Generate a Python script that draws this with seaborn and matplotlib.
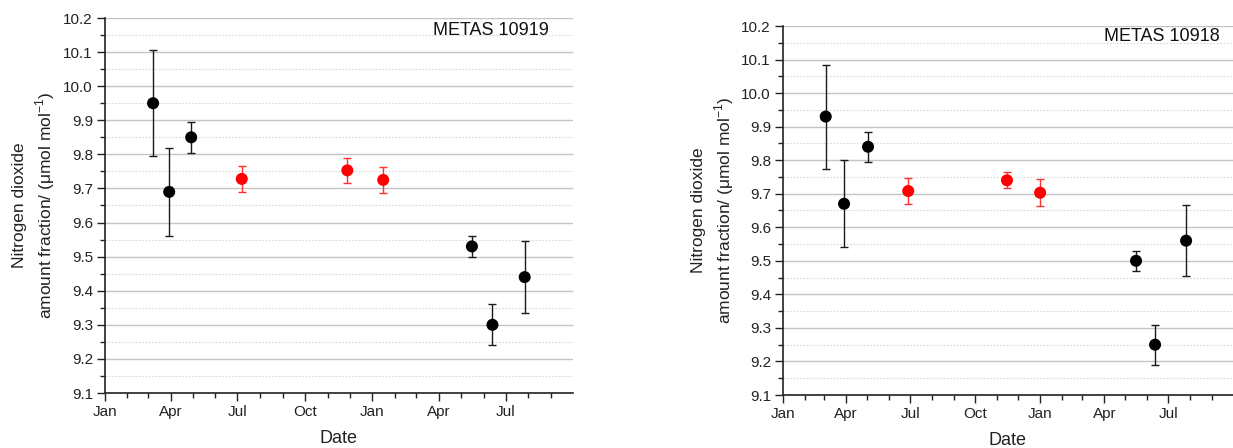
import numpy as np
import pandas as pd
import matplotlib
matplotlib.use("Agg")
import matplotlib.pyplot as plt
import matplotlib.dates as mdates
import seaborn as sns

# ---- data ----
dates_10919 = ["2019-03-08", "2019-03-30", "2019-04-29", "2019-07-07", "2019-11-28",
               "2020-01-16", "2020-05-16", "2020-06-13", "2020-07-27"]
values_10919 = [9.95, 9.69, 9.85, 9.728, 9.753, 9.725, 9.53, 9.30, 9.44]
errors_10919 = [0.155, 0.13, 0.045, 0.038, 0.037, 0.039, 0.03, 0.06, 0.105]

dates_10918 = ["2019-03-03", "2019-03-29", "2019-05-02", "2019-06-28", "2019-11-15",
               "2020-01-01", "2020-05-16", "2020-06-12", "2020-07-26"]
values_10918 = [9.93, 9.67, 9.84, 9.708, 9.740, 9.703, 9.50, 9.25, 9.56]
errors_10918 = [0.155, 0.13, 0.045, 0.038, 0.024, 0.04, 0.03, 0.06, 0.105]

groups = ["black", "black", "black", "red", "red", "red", "black", "black", "black"]

titles = ["METAS 10919", "METAS 10918"]
ylabel = "Nitrogen dioxide\namount fraction/ (\u03bcmol mol$^{-1}$)"
xlabel = "Date"

palette = {"black": "#000000", "red": "#ff0000"}
err_colors = {"black": "#1a1a1a", "red": "#ff3030"}

sns.set_style("white")
plt.rcParams['font.family'] = ['Liberation Sans', 'DejaVu Sans']
plt.rcParams['mathtext.fontset'] = 'custom'
plt.rcParams['mathtext.rm'] = 'Liberation Sans'

fig = plt.figure(figsize=(12.33, 4.48), dpi=100)
ax1 = fig.add_axes([104.7 / 1233, 1 - 393 / 448, 468 / 1233, 375 / 448])
ax2 = fig.add_axes([782.7 / 1233, 1 - 395 / 448, 450.3 / 1233, 369 / 448])

panels = [
    (ax1, dates_10919, values_10919, errors_10919, titles[0], (0.95, 0.968), -0.102),
    (ax2, dates_10918, values_10918, errors_10918, titles[1], (0.97, 0.971), -0.104),
]

for ax, d, v, e, title, tpos, lx in panels:
    df = pd.DataFrame({"date": pd.to_datetime(d), "value": v, "err": e, "group": groups})
    for g, sub in df.groupby("group"):
        ax.errorbar(sub["date"], sub["value"], yerr=sub["err"], fmt="none",
                    ecolor=err_colors[g], elinewidth=1.0, capsize=3.2, capthick=1.0,
                    zorder=3)
    sns.scatterplot(data=df, x="date", y="value", hue="group", palette=palette,
                    s=75, edgecolor="none", legend=False, ax=ax, zorder=4)

    ax.set_xlim(pd.Timestamp("2019-01-01"), pd.Timestamp("2020-09-30 12:00"))
    ax.set_ylim(9.1, 10.2)
    ax.xaxis.set_major_locator(mdates.MonthLocator(bymonth=[1, 4, 7, 10]))
    ax.xaxis.set_major_formatter(mdates.DateFormatter("%b"))
    ax.xaxis.set_minor_locator(mdates.MonthLocator())
    ax.set_yticks(np.round(np.arange(9.1, 10.21, 0.1), 2))
    ax.set_yticks(np.round(np.arange(9.15, 10.2, 0.1), 2), minor=True)
    ax.yaxis.set_major_formatter(matplotlib.ticker.FormatStrFormatter("%.1f"))

    ax.grid(axis="y", which="major", color="#c4c4c4", linewidth=1.0, linestyle="-")
    ax.grid(axis="y", which="minor", color="#d8d8d8", linewidth=0.8, linestyle=(0, (1.5, 1.5)))
    ax.grid(axis="x", visible=False)
    ax.set_axisbelow(True)

    for s in ["top", "right"]:
        ax.spines[s].set_visible(False)
    for s in ["left", "bottom"]:
        ax.spines[s].set_color("#222222")
        ax.spines[s].set_linewidth(1.2)

    ax.tick_params(axis="both", which="major", direction="out", length=5.5, width=1.0,
                   color="#222222", labelsize=11, labelcolor="#222222", pad=3,
                   bottom=True, left=True)
    ax.tick_params(axis="both", which="minor", direction="out", length=3.5, width=1.0,
                   color="#222222", bottom=True, left=True)

    ax.set_xlabel(xlabel, fontsize=13, color="#222222", labelpad=8)
    ax.set_ylabel(ylabel, fontsize=12.5, color="#222222", linespacing=1.35)
    ax.yaxis.set_label_coords(lx, 0.5)
    ax.text(tpos[0], tpos[1], title, transform=ax.transAxes, ha="right", va="center",
            fontsize=13, color="#111111")

fig.savefig("out.png", dpi=100)
